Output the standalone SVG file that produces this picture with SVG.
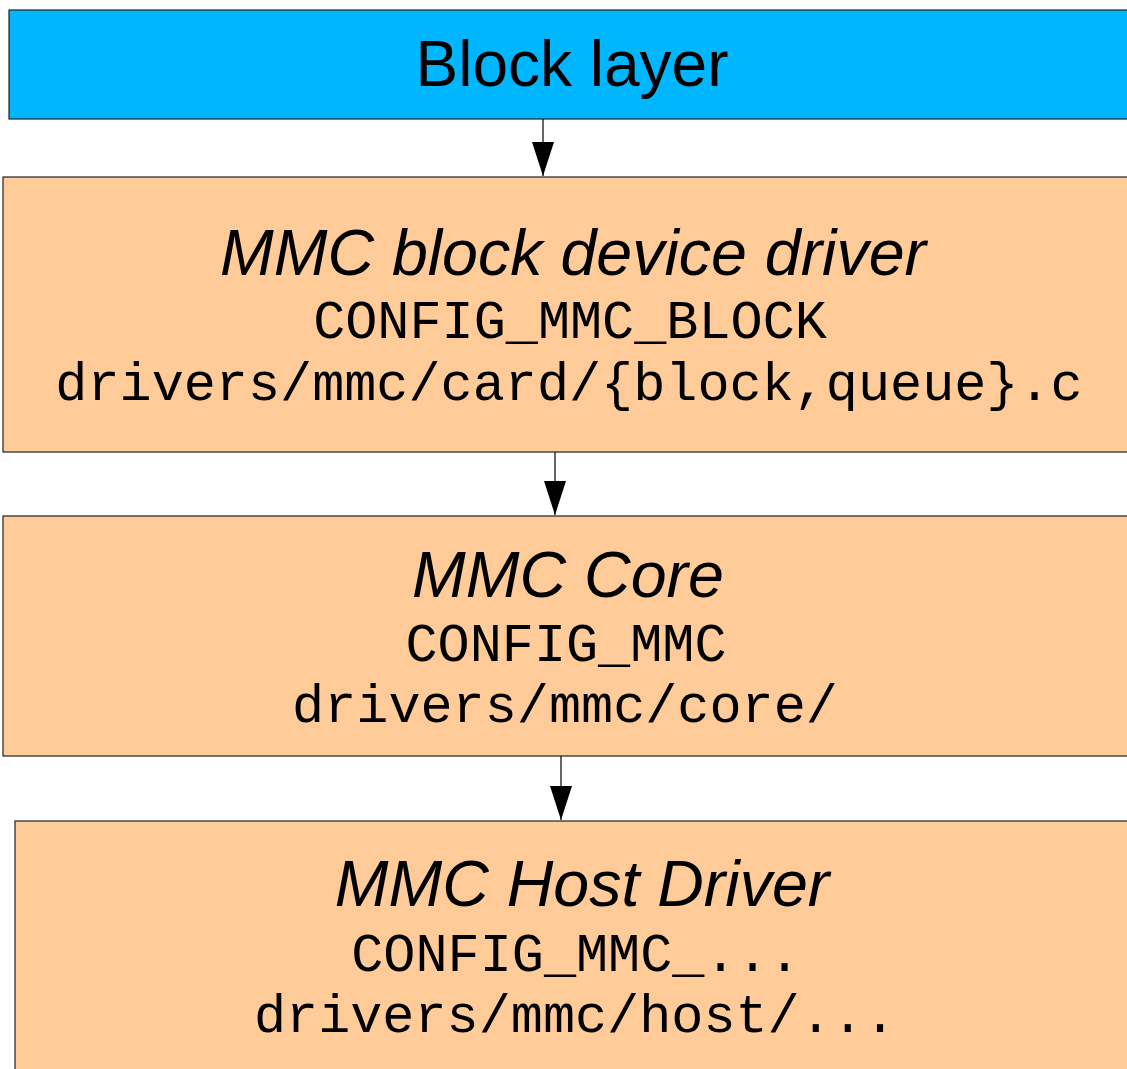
<svg xmlns="http://www.w3.org/2000/svg" width="1127" height="1069" viewBox="0 0 1127 1069">
<style>
.box{stroke:#222;stroke-width:1.2}
.blue{fill:#00b6ff}
.orange{fill:#ffcb99}
.title{font-family:"Liberation Sans",Arial,sans-serif;font-size:64px;fill:#000;text-anchor:middle}
.it{font-style:italic;font-size:64.5px}
.mono{font-family:"Liberation Mono","Courier New",monospace;font-size:53.5px;fill:#000;text-anchor:middle}
.conn{stroke:#000;stroke-width:1.2;fill:none}
</style>
<defs>
<marker id="arr" markerWidth="34" markerHeight="22" refX="34" refY="11" orient="auto" markerUnits="userSpaceOnUse" viewBox="0 0 34 22">
<path d="M0,0 L34,11 L0,22 Z" fill="#000"/>
</marker>
</defs>
<g id="block-layer">
<rect class="box blue" x="9" y="10" width="1130" height="109"/>
<text class="title" x="572" y="86">Block layer</text>
</g>
<g id="mmc-block">
<rect class="box orange" x="3" y="177" width="1136" height="275"/>
<text class="title it" x="573" y="275">MMC block device driver</text>
<text class="mono" x="570" y="338">CONFIG_MMC_BLOCK</text>
<text class="mono" x="569" y="400">drivers/mmc/card/{block,queue}.c</text>
</g>
<g id="mmc-core">
<rect class="box orange" x="3" y="516" width="1136" height="240"/>
<text class="title it" x="568" y="597">MMC Core</text>
<text class="mono" x="566" y="661">CONFIG_MMC</text>
<text class="mono" x="565" y="722">drivers/mmc/core/</text>
</g>
<g id="mmc-host">
<rect class="box orange" x="15" y="821" width="1124" height="260"/>
<text class="title it" x="582" y="906">MMC Host Driver</text>
<text class="mono" x="576" y="971">CONFIG_MMC_...</text>
<text class="mono" x="575" y="1032">drivers/mmc/host/...</text>
</g>
<g id="connectors">
<line class="conn" x1="543" y1="119" x2="543" y2="176" marker-end="url(#arr)"/>
<line class="conn" x1="555" y1="452" x2="555" y2="515" marker-end="url(#arr)"/>
<line class="conn" x1="561" y1="756" x2="561" y2="820" marker-end="url(#arr)"/>
</g>
</svg>
